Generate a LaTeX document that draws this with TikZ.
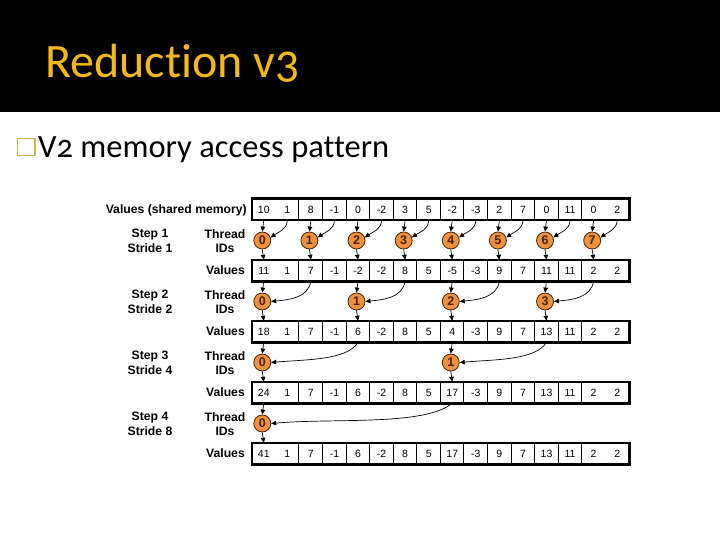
\documentclass[tikz,border=0pt]{standalone}
\usepackage{fontspec}
\setmainfont{Carlito}
\newfontfamily\titlefont{Carlito}[Numbers=OldStyle,Ligatures=NoCommon]
\newfontfamily\arial{Liberation Sans}
\usetikzlibrary{arrows.meta}
\definecolor{gold}{RGB}{245,184,20}
\definecolor{bulletgold}{RGB}{215,180,60}
\definecolor{thorange}{RGB}{240,145,60}
\definecolor{thedge}{RGB}{70,35,10}
\begin{document}
\begin{tikzpicture}[x=1pt,y=-1pt,
  cell/.style={minimum width=23.5625pt, minimum height=21pt, inner sep=0, font=\arial\fontsize{10.5}{10.5}\selectfont},
  lbl/.style={font=\arial\bfseries\fontsize{12.2}{14.5}\selectfont, align=center, inner sep=0},
  thr/.style={circle, draw=thedge, fill=thorange, minimum size=17pt, inner sep=0, line width=0.8pt, font=\arial\bfseries\fontsize{12.5}{12.5}\selectfont, text=thedge},
  arr/.style={-{Triangle[length=5pt,width=4.5pt]}, line width=0.7pt},
  rowbox/.style={draw, line width=2.6pt},
  divider/.style={line width=0.9pt}]
\useasboundingbox (0,0) rectangle (720,540);
\fill[white] (0,0) rectangle (720,540);
\fill[black] (0,0) rectangle (720,112);
\node[anchor=base west, text=gold, font=\titlefont\fontsize{48}{48}\selectfont, inner sep=0] (title) at (45,78) {Reduction v3};
\draw[bulletgold, line width=1.3pt] (17.5,138.5) rectangle (35,155.5);
\node[anchor=base west, font=\titlefont\fontsize{32.5}{32.5}\selectfont, inner sep=0] (sub) at (38,158) {V2 memory access pattern};

% rows of values
\foreach \r/\vals in {1/{10,1,8,-1,0,-2,3,5,-2,-3,2,7,0,11,0,2},
                      2/{11,1,7,-1,-2,-2,8,5,-5,-3,9,7,11,11,2,2},
                      3/{18,1,7,-1,6,-2,8,5,4,-3,9,7,13,11,2,2},
                      4/{24,1,7,-1,6,-2,8,5,17,-3,9,7,13,11,2,2},
                      5/{41,1,7,-1,6,-2,8,5,17,-3,9,7,13,11,2,2}}{
  \foreach \v [count=\i from 0] in \vals {
    \node[cell] (c\r-\i) at ({252+23.5625*(\i+0.5)}, {209.5+61*(\r-1)}) {\v};
  }
  \foreach \i in {2,...,14} {
    \draw[divider] (c\r-\i.north west) -- (c\r-\i.south west);
  }
  \draw[rowbox] (c\r-0.north west) rectangle (c\r-15.south east);
}

% labels
\node[lbl, anchor=east] (vsm) at (247,210.5) {Values (shared memory)};
\foreach \r in {2,3,4,5}{
  \node[lbl, anchor=east] (val\r) at (245,{209.5+61*(\r-1)}) {Values};
}
\foreach \s in {1,2,3,4}{
  \pgfmathtruncatemacro\stride{2^(\s-1)}
  \node[lbl] (step\s) at (150,{241+61*(\s-1)}) {Step \s\\Stride \stride};
  \node[lbl] (tid\s) at (225,{241+61*(\s-1)}) {Thread\\IDs};
}

% threads and arrows
\foreach \s in {1,2,3,4}{
  \pgfmathtruncatemacro\stride{2^(\s-1)}
  \pgfmathtruncatemacro\nt{8/\stride-1}
  \pgfmathtruncatemacro\nxt{\s+1}
  \foreach \t in {0,...,\nt}{
    \pgfmathtruncatemacro\col{2*\stride*\t}
    \pgfmathtruncatemacro\src{\col+\stride}
    \node[thr] (t\s-\t) at ({252+23.5625*(\col+0.5)-1.5}, {240.5+61*(\s-1)}) {\t};
    \draw[arr] (c\s-\col.south) -- (t\s-\t.north);
    \ifcase\s
    \or
      \draw[arr] (c\s-\src.south) to[out=-92,in=35] (t\s-\t.20);
    \or
      \draw[arr] (c\s-\src.south) to[out=-100,in=6] (t\s-\t.east);
    \or
      \draw[arr] (c\s-\src.south) to[out=-120,in=5,out looseness=0.6] (t\s-\t.east);
    \else
      \draw[arr] (c\s-\src.south) to[out=-140,in=5,out looseness=0.5,in looseness=0.9] (t\s-\t.east);
    \fi
    \draw[arr] (t\s-\t.south) -- (c\nxt-\col.north);
  }
}
\end{tikzpicture}
\end{document}
